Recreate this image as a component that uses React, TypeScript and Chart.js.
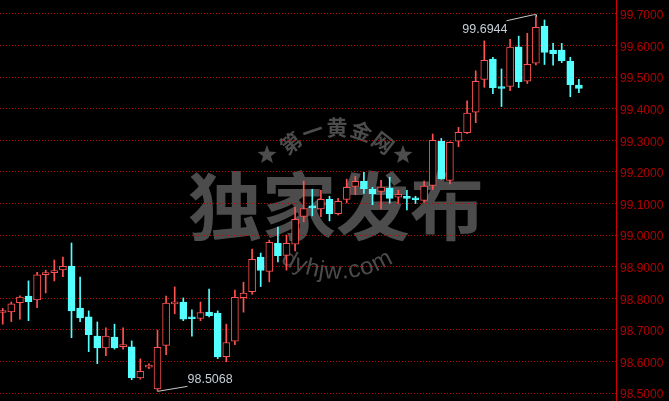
import React, { useEffect, useRef } from 'react';
import { Chart, registerables } from 'chart.js';

Chart.register(...registerables);

// OHLC values, one entry per candle (oldest first)
const opens = [
  98.755, 98.757, 98.786, 98.807, 98.795, 98.875, 98.881, 98.890, 98.902, 98.769,
  98.741, 98.680, 98.643, 98.677, 98.647, 98.646, 98.548, 98.582, 98.513, 98.651,
  98.782, 98.788, 98.737, 98.736, 98.756, 98.753, 98.615, 98.664, 98.802, 98.821,
  98.930, 98.885, 98.974, 98.936, 98.971, 99.059, 99.088, 99.083, 99.113, 99.068,
  99.113, 99.154, 99.170, 99.145, 99.138, 99.148, 99.120, 99.123, 99.113, 99.110,
  99.157, 99.298, 99.173, 99.297, 99.324, 99.389, 99.493, 99.557, 99.466, 99.471,
  99.596, 99.487, 99.544, 99.662, 99.586, 99.586, 99.551, 99.475,
];
const highs = [
  98.768, 98.788, 98.808, 98.855, 98.882, 98.889, 98.921, 98.930, 98.975, 98.867,
  98.760, 98.725, 98.706, 98.718, 98.706, 98.665, 98.608, 98.592, 98.699, 98.807,
  98.836, 98.801, 98.763, 98.788, 98.829, 98.760, 98.718, 98.826, 98.851, 98.956,
  98.943, 98.984, 99.025, 99.000, 99.088, 99.171, 99.145, 99.142, 99.123, 99.116,
  99.177, 99.186, 99.199, 99.151, 99.173, 99.183, 99.142, 99.142, 99.123, 99.171,
  99.320, 99.306, 99.295, 99.341, 99.425, 99.520, 99.615, 99.563, 99.526, 99.620,
  99.630, 99.639, 99.6944, 99.681, 99.607, 99.607, 99.563, 99.493,
];
const lows = [
  98.718, 98.726, 98.734, 98.729, 98.770, 98.817, 98.855, 98.868, 98.675, 98.726,
  98.631, 98.593, 98.618, 98.639, 98.639, 98.542, 98.544, 98.577, 98.5068, 98.621,
  98.751, 98.729, 98.680, 98.729, 98.741, 98.609, 98.599, 98.653, 98.756, 98.813,
  98.837, 98.852, 98.915, 98.889, 98.950, 99.042, 99.061, 99.058, 99.045, 99.064,
  99.102, 99.128, 99.132, 99.096, 99.083, 99.101, 99.101, 99.080, 99.100, 99.104,
  99.144, 99.177, 99.162, 99.280, 99.321, 99.356, 99.468, 99.448, 99.407, 99.457,
  99.467, 99.480, 99.539, 99.540, 99.538, 99.546, 99.438, 99.451,
];
const closes = [
  98.757, 98.782, 98.804, 98.789, 98.874, 98.880, 98.888, 98.901, 98.760, 98.738,
  98.685, 98.643, 98.680, 98.643, 98.648, 98.548, 98.569, 98.583, 98.645, 98.785,
  98.784, 98.734, 98.735, 98.755, 98.745, 98.614, 98.660, 98.803, 98.816, 98.923,
  98.888, 98.977, 98.935, 98.974, 99.050, 99.084, 99.086, 99.113, 99.068, 99.107,
  99.151, 99.170, 99.147, 99.131, 99.152, 99.116, 99.129, 99.116, 99.112, 99.155,
  99.300, 99.178, 99.294, 99.325, 99.386, 99.487, 99.553, 99.467, 99.464, 99.595,
  99.486, 99.541, 99.658, 99.578, 99.574, 99.552, 99.476, 99.464,
];

const Y_MIN = 98.4747;
const Y_MAX = 99.7443;
const Y_STEP = 0.1;
const X_MIN = -0.314;
const X_MAX = 71.314;

const UP = '#ff5252';
const DOWN = '#54ffff';
const AXIS_RED = '#c80000';
const LABEL_RED = '#b40000';
const WM = '#4c4c4c';

function drawStar(ctx: CanvasRenderingContext2D, cx: number, cy: number, r: number) {
  ctx.beginPath();
  for (let k = 0; k < 10; k++) {
    const rad = k % 2 === 0 ? r : r * 0.42;
    const a = -Math.PI / 2 + (k * Math.PI) / 5;
    const x = cx + rad * Math.cos(a);
    const y = cy + rad * Math.sin(a);
    if (k === 0) ctx.moveTo(x, y);
    else ctx.lineTo(x, y);
  }
  ctx.closePath();
  ctx.fill();
}

const backgroundPlugin = {
  id: 'bgWatermark',
  beforeDraw(chart: any) {
    const ctx: CanvasRenderingContext2D = chart.ctx;
    ctx.save();
    ctx.fillStyle = '#000';
    ctx.fillRect(0, 0, chart.width, chart.height);

    ctx.fillStyle = WM;
    // big text
    ctx.font = 'bold 74px "Noto Sans CJK SC"';
    ctx.textAlign = 'center';
    ctx.textBaseline = 'middle';
    ctx.fillText('独家发布', 336, 206);

    // upper arc text
    const top = ['第', '一', '黄', '金', '网'];
    const angs = [-38, -19, 0, 19, 38];
    ctx.font = 'bold 21px "Noto Sans CJK SC"';
    top.forEach((ch, k) => {
      const a = (angs[k] * Math.PI) / 180;
      ctx.save();
      ctx.translate(337 + 75 * Math.sin(a), 202 - 75 * Math.cos(a));
      ctx.rotate(a);
      ctx.fillText(ch, 0, 0);
      ctx.restore();
    });

    drawStar(ctx, 267, 155, 10);
    drawStar(ctx, 403, 155, 10);

    // lower arc text
    const txt = 'dyhjw.com';
    ctx.font = '24px "Liberation Sans"';
    const R = 100;
    const cx = 337;
    const cy = 172;
    const widths = txt.split('').map((c) => ctx.measureText(c).width);
    const total = widths.reduce((s, w) => s + w, 0);
    let acc = -total / 2;
    txt.split('').forEach((c, k) => {
      const mid = acc + widths[k] / 2;
      const t = mid / R;
      ctx.save();
      ctx.translate(cx + R * Math.sin(t), cy + R * Math.cos(t));
      ctx.rotate(-t);
      ctx.fillText(c, 0, 0);
      ctx.restore();
      acc += widths[k];
    });
    ctx.restore();
  },
};

const annotationPlugin = {
  id: 'hiLo',
  afterDatasetsDraw(chart: any) {
    const ctx: CanvasRenderingContext2D = chart.ctx;
    const xs = chart.scales.x;
    const ys = chart.scales.y;
    let hi = 0;
    let lo = 0;
    highs.forEach((v, k) => { if (v > highs[hi]) hi = k; });
    lows.forEach((v, k) => { if (v < lows[lo]) lo = k; });
    ctx.save();
    ctx.strokeStyle = '#c8c8c8';
    ctx.lineWidth = 1;
    ctx.fillStyle = '#c6ced6';
    ctx.font = '12.5px "Liberation Sans"';

    const hx = Math.round(xs.getPixelForValue(hi)) + 0.5;
    const hy = ys.getPixelForValue(highs[hi]);
    ctx.beginPath();
    ctx.moveTo(hx - 30, hy + 5);
    ctx.lineTo(hx - 3, hy - 1);
    ctx.lineTo(hx, hy - 1);
    ctx.lineTo(hx, hy + 1);
    ctx.stroke();
    ctx.textAlign = 'right';
    ctx.textBaseline = 'alphabetic';
    ctx.fillText(highs[hi].toFixed(4), hx - 29, hy + 17.5);

    const lx = xs.getPixelForValue(lo);
    const ly = ys.getPixelForValue(lows[lo]);
    ctx.beginPath();
    ctx.moveTo(lx, ly + 0.5);
    ctx.lineTo(lx + 30, ly - 4.5);
    ctx.stroke();
    ctx.textAlign = 'left';
    ctx.fillText(lows[lo].toFixed(4), lx + 30, ly - 8);
    ctx.restore();
  },
};

export default function App() {
  const ref = useRef<HTMLCanvasElement | null>(null);

  useEffect(() => {
    document.body.style.margin = '0';
    document.body.style.background = '#000';
    if (!ref.current) return;

    const isUp = opens.map((o, k) => closes[k] >= o);
    const wickData = highs.map((h, k) => ({ x: k, y: [lows[k], h] }));
    const bodyData = opens.map((o, k) => ({ x: k, y: [o, closes[k]] }));

    const chart = new Chart(ref.current, {
      type: 'bar',
      data: {
        datasets: [
          {
            label: 'wick',
            data: wickData as any,
            backgroundColor: isUp.map((u) => (u ? UP : DOWN)),
            borderWidth: 0,
            barThickness: 1,
            grouped: false,
            order: 2,
          },
          {
            label: 'body',
            data: bodyData as any,
            backgroundColor: isUp.map((u) => (u ? '#000000' : DOWN)),
            borderColor: isUp.map((u) => (u ? UP : DOWN)),
            borderWidth: 1,
            borderSkipped: false,
            barThickness: 7,
            minBarLength: 2,
            grouped: false,
            order: 1,
          },
        ],
      },
      options: {
        animation: false,
        responsive: false,
        maintainAspectRatio: false,
        devicePixelRatio: 1,
        layout: { padding: 0 },
        plugins: {
          legend: { display: false },
          tooltip: { enabled: false },
        },
        scales: {
          x: {
            type: 'linear',
            display: false,
            offset: false,
            min: X_MIN,
            max: X_MAX,
            grid: { display: false },
          },
          y: {
            type: 'linear',
            position: 'right',
            min: Y_MIN,
            max: Y_MAX,
            afterFit: (scale: any) => {
              scale.width = 53;
              scale.paddingTop = 0;
              scale.paddingBottom = 0;
            },
            grid: {
              color: AXIS_RED,
              lineWidth: 1,
              drawTicks: false,
            },
            border: {
              display: true,
              color: '#d00000',
              width: 1,
              dash: [1, 2],
            },
            ticks: {
              stepSize: Y_STEP,
              includeBounds: false,
              color: LABEL_RED,
              padding: 4,
              labelOffset: 2,
              font: { family: '"Liberation Sans"', size: 12 },
              callback: (v: any) => Number(v).toFixed(4),
            },
          },
        },
      } as any,
      plugins: [backgroundPlugin, annotationPlugin],
    });
    return () => chart.destroy();
  }, []);

  return (
    <div style={{ width: 669, height: 401, background: '#000' }}>
      <canvas ref={ref} width={669} height={401} style={{ display: 'block' }} />
    </div>
  );
}
